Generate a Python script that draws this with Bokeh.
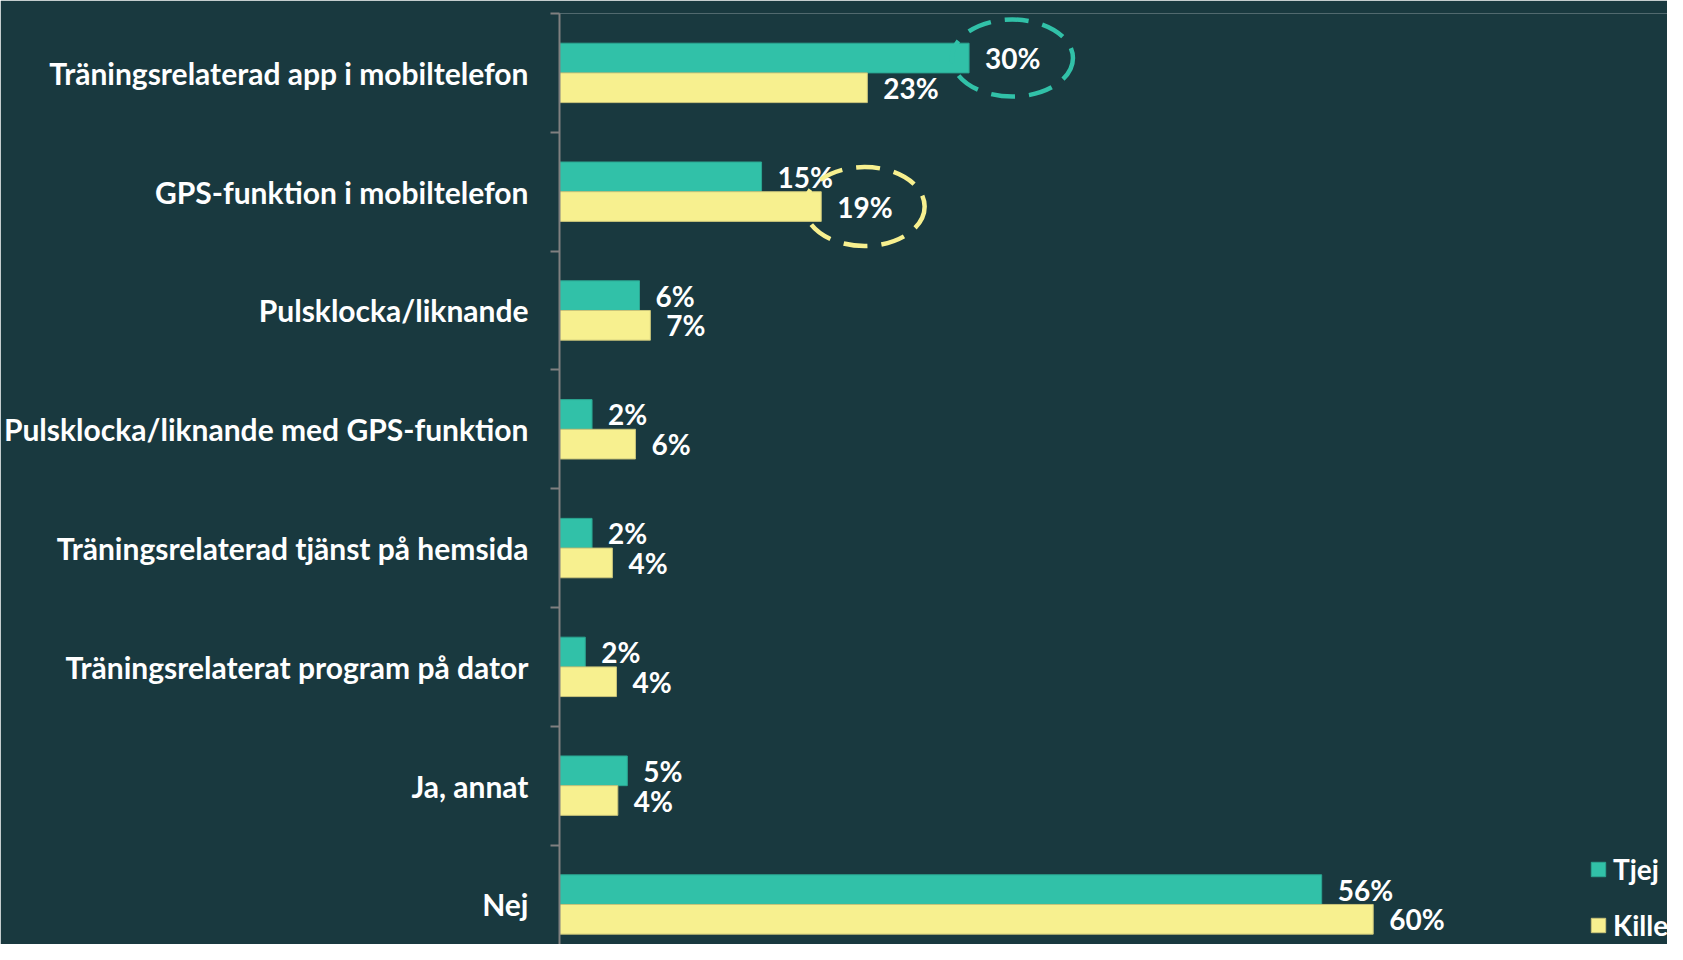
from bokeh.plotting import figure
from bokeh.models import Range1d, FixedTicker, Legend, LegendItem, ColumnDataSource
from bokeh.core.properties import value
from bokeh.transform import dodge
from bokeh.embed import file_html
from bokeh.resources import INLINE

categories = [
    "Träningsrelaterad app i mobiltelefon",
    "GPS-funktion i mobiltelefon",
    "Pulsklocka/liknande",
    "Pulsklocka/liknande med GPS-funktion",
    "Träningsrelaterad tjänst på hemsida",
    "Träningsrelaterat program på dator",
    "Ja, annat",
    "Nej",
]
tjej = [30.2, 14.9, 5.9, 2.4, 2.4, 1.9, 5.0, 56.2]
kille = [22.7, 19.3, 6.7, 5.6, 3.9, 4.2, 4.3, 60.0]
tjej_labels = ["30%", "15%", "6%", "2%", "2%", "2%", "5%", "56%"]
kille_labels = ["23%", "19%", "7%", "6%", "4%", "4%", "4%", "60%"]
series_names = ["Tjej", "Kille"]
highlight_tjej = [0]
highlight_kille = [1]

BG = "#19393f"
TEAL = "#31c1a8"
YELLOW = "#f7f08f"
AXIS = "#808080"
FONT = "Lato"

W, H = 1667, 944

idx = list(range(len(categories)))
src = ColumnDataSource(dict(idx=idx, tjej=tjej, kille=kille,
                            tjej_lbl=tjej_labels, kille_lbl=kille_labels))

p = figure(width=W, height=H,
           x_range=Range1d(0, 81.7), y_range=Range1d(7.337, -0.5),
           output_backend="svg", toolbar_location=None,
           x_axis_location=None,
           min_border_left=559, min_border_right=0,
           min_border_top=13, min_border_bottom=0)
p.grid.visible = False
p.outline_line_color = None
p.background_fill_color = BG
p.border_fill_color = BG

ya = p.yaxis[0]
ya.ticker = FixedTicker(ticks=idx, minor_ticks=[i - 0.5 for i in range(len(categories) + 1)])
ya.major_label_overrides = {i: c for i, c in enumerate(categories)}
ya.major_tick_line_color = None
ya.major_tick_out = 0
ya.major_tick_in = 0
ya.minor_tick_out = 9
ya.minor_tick_in = 0
ya.minor_tick_line_color = AXIS
ya.minor_tick_line_width = 2
ya.axis_line_color = AXIS
ya.axis_line_width = 2
ya.major_label_standoff = 22
ya.major_label_text_font = FONT
ya.major_label_text_font_style = "bold"
ya.major_label_text_font_size = "30px"
ya.major_label_text_color = "white"

r1 = p.hbar(y=dodge("idx", -0.125, range=p.y_range), left=0, right="tjej", height=0.25,
            source=src, fill_color=TEAL, line_color="#2ba591", line_width=1)
r2 = p.hbar(y=dodge("idx", 0.125, range=p.y_range), left=0, right="kille", height=0.25,
            source=src, fill_color=YELLOW, line_color="#c9c47a", line_width=1)

common = dict(x_offset=16, text_baseline="middle", text_align="left",
              text_font=value(FONT), text_font_style="bold",
              text_font_size="28px", text_color="white", source=src)
p.text(x="tjej", y=dodge("idx", -0.125, range=p.y_range), text="tjej_lbl", **common)
p.text(x="kille", y=dodge("idx", 0.125, range=p.y_range), text="kille_lbl", **common)

# dashed highlight ellipses around selected labels (centred on the label)
LABEL_DX = 3.2
p.ellipse(x=[tjej[i] + LABEL_DX for i in highlight_tjej],
          y=[i - 0.125 for i in highlight_tjej],
          width=121, height=77, width_units="screen", height_units="screen",
          fill_color=None, line_color=TEAL, line_width=4.5, line_dash="24 14")
p.ellipse(x=[kille[i] + LABEL_DX for i in highlight_kille],
          y=[i + 0.125 for i in highlight_kille],
          width=120, height=79, width_units="screen", height_units="screen",
          fill_color=None, line_color=YELLOW, line_width=4.5, line_dash="24 14")

legend = Legend(items=[LegendItem(label=series_names[0], renderers=[r1]),
                       LegendItem(label=series_names[1], renderers=[r2])],
                location=(1030, 2))
legend.background_fill_alpha = 0
legend.border_line_color = None
legend.label_text_color = "white"
legend.label_text_font = FONT
legend.label_text_font_style = "bold"
legend.label_text_font_size = "28px"
legend.glyph_width = 18
legend.glyph_height = 18
legend.spacing = 22
legend.padding = 0
legend.margin = 0
legend.label_standoff = 6
p.add_layout(legend)

open("out.html", "w").write(file_html(p, INLINE))
